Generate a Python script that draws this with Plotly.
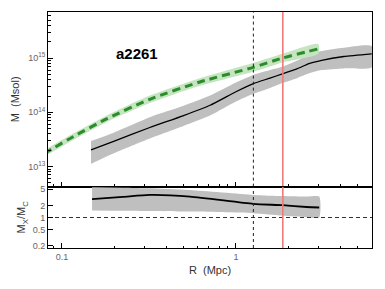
import plotly.graph_objects as go
from plotly.subplots import make_subplots

# ---- data ----
# lensing (black) mass profile
R_lens = [0.147, 0.20, 0.32, 0.50, 0.71, 1.0, 1.26, 1.57, 1.85, 2.24, 2.63, 3.11, 4.17, 6.03]
M_lens = [2.04e13, 2.95e13, 5.25e13, 8.71e13, 1.35e14, 2.40e14, 3.39e14, 4.27e14, 5.13e14,
          6.31e14, 7.94e14, 9.12e14, 1.07e15, 1.20e15]
M_lens_hi = [2.95e13, 4.27e13, 8.13e13, 1.32e14, 2.04e14, 3.55e14, 4.90e14, 6.03e14, 6.92e14,
             8.91e14, 1.15e15, 1.35e15, 1.55e15, 1.66e15]
M_lens_lo = [1.12e13, 1.78e13, 3.31e13, 5.62e13, 8.71e13, 1.58e14, 2.19e14, 2.82e14, 3.47e14,
             4.27e14, 5.25e14, 6.03e14, 6.46e14, 6.76e14]

# X-ray (green) mass profile
R_x = [0.079, 0.116, 0.178, 0.32, 0.62, 1.26, 1.85, 2.97]
M_x = [1.74e13, 3.55e13, 7.41e13, 1.74e14, 3.63e14, 6.76e14, 1.0e15, 1.48e15]
M_x_hi = [2.00e13, 4.07e13, 8.51e13, 2.04e14, 4.27e14, 8.13e14, 1.20e15, 1.82e15]
M_x_lo = [1.51e13, 3.09e13, 6.46e13, 1.48e14, 3.09e14, 5.62e14, 8.32e14, 1.20e15]

# ratio panel
R_ratio = [0.149, 0.224, 0.32, 0.545, 1.26, 1.85, 2.55, 3.01]
ratio = [2.85, 3.24, 3.63, 3.31, 2.18, 2.02, 1.82, 1.77]
ratio_hi = [5.6, 5.5, 5.3, 4.8, 3.63, 3.4, 3.3, 3.3]
ratio_lo = [1.49, 1.47, 1.45, 1.40, 1.28, 1.12, 1.02, 1.0]

R_dash = 1.26   # vertical dashed line
R_red = 1.86    # vertical red line

upper_ticks = [1e13, 1e14, 1e15]
upper_ticktext = ["10<sup>13</sup>", "10<sup>14</sup>", "10<sup>15</sup>"]
lower_ticks = [0.2, 0.5, 1, 2, 5]
lower_ticktext = ["0.2", "0.5", "1", "2", "5"]
x_ticks = [0.1, 1]
x_ticktext = ["0.1", "1"]

UP_RANGE = [12.63, 15.85]
LO_RANGE = [-0.756, 0.765]
X_RANGE = [-1.08, 0.782]


def minor_vals(lo_exp, hi_exp):
    return [m * 10.0 ** e for e in range(lo_exp, hi_exp + 1) for m in range(2, 10)]


fig = make_subplots(rows=2, cols=1, shared_xaxes=True, vertical_spacing=0,
                    row_heights=[0.74, 0.26])

GRAY = "#bfbfbf"
LGREEN = "#c5e4c0"
DGREEN = "#2a8c2a"

# upper panel bands
fig.add_trace(go.Scatter(x=R_lens + R_lens[::-1], y=M_lens_hi + M_lens_lo[::-1], fill="toself",
                         fillcolor=GRAY, line=dict(width=0, shape="spline", smoothing=0.6),
                         mode="lines", hoverinfo="skip"), 1, 1)
fig.add_trace(go.Scatter(x=R_x + R_x[::-1], y=M_x_hi + M_x_lo[::-1], fill="toself",
                         fillcolor=LGREEN, line=dict(width=0, shape="spline", smoothing=0.6),
                         mode="lines", hoverinfo="skip"), 1, 1)
fig.add_trace(go.Scatter(x=R_lens, y=M_lens, mode="lines",
                         line=dict(color="black", width=1.3, shape="spline", smoothing=0.6)), 1, 1)
fig.add_trace(go.Scatter(x=R_x, y=M_x, mode="lines",
                         line=dict(color=DGREEN, width=3, dash="8px,5px", shape="spline", smoothing=0.6)), 1, 1)

# lower panel
fig.add_trace(go.Scatter(x=R_ratio + R_ratio[::-1], y=ratio_hi + ratio_lo[::-1], fill="toself",
                         fillcolor=GRAY, line=dict(width=0, shape="spline", smoothing=0.6),
                         mode="lines", hoverinfo="skip"), 2, 1)
fig.add_trace(go.Scatter(x=R_ratio, y=ratio, mode="lines",
                         line=dict(color="black", width=1.8, shape="spline", smoothing=0.6)), 2, 1)
fig.add_trace(go.Scatter(x=[10 ** X_RANGE[0], 10 ** X_RANGE[1]], y=[1, 1], mode="lines",
                         line=dict(color="#333", width=1, dash="4px,3px")), 2, 1)

# vertical lines in both panels
for row, yr in ((1, UP_RANGE), (2, LO_RANGE)):
    fig.add_trace(go.Scatter(x=[R_dash, R_dash], y=[10 ** yr[0], 10 ** yr[1]], mode="lines",
                             line=dict(color="#222", width=1, dash="3px,3px")), row, 1)
    fig.add_trace(go.Scatter(x=[R_red, R_red], y=[10 ** yr[0], 10 ** yr[1]], mode="lines",
                             line=dict(color="#f07a7a", width=1.6)), row, 1)

TICKFONT = dict(family="Liberation Sans, Arial", size=9, color="#666")
TITLEFONT = dict(family="Liberation Sans, Arial", size=11, color="#333")


def axis_style(minor_ticks):
    return dict(showline=True, linecolor="black", linewidth=1, mirror=True, showgrid=False,
                zeroline=False, ticks="inside", ticklen=5, tickcolor="black", automargin=False,
                minor=dict(ticks="inside", ticklen=2.5, tickcolor="black", showgrid=False,
                           tickmode="array", tickvals=minor_ticks),
                tickfont=TICKFONT)


fig.update_xaxes(type="log", range=X_RANGE, tickmode="array", tickvals=x_ticks, ticktext=x_ticktext,
                 **axis_style(minor_vals(-2, 0)))
fig.update_xaxes(showticklabels=False, row=1, col=1)
fig.update_xaxes(title=dict(text="R  (Mpc)", font=TITLEFONT, standoff=5), row=2, col=1)
fig.update_yaxes(type="log", range=UP_RANGE, tickmode="array", tickvals=upper_ticks, ticktext=upper_ticktext,
                 title=dict(text="M  (Msol)", font=TITLEFONT, standoff=6),
                 **axis_style(minor_vals(12, 15)), row=1, col=1)
fig.update_yaxes(type="log", range=LO_RANGE, tickmode="array", tickvals=lower_ticks, ticktext=lower_ticktext,
                 title=dict(text="M<sub>X</sub>/M<sub>C</sub>", font=TITLEFONT, standoff=4),
                 **axis_style([]), row=2, col=1)

fig.add_annotation(text="<b>a2261</b>", xref="paper", yref="paper", x=0.204, y=0.87,
                   showarrow=False, font=dict(family="Liberation Sans, Arial", size=15, color="black"))

fig.update_layout(width=385, height=289, margin=dict(l=48, r=13, t=12, b=41),
                  plot_bgcolor="white", paper_bgcolor="white", showlegend=False)

fig.write_html("out.html", config={"displayModeBar": False},
               post_script="document.body.style.margin='0';")
